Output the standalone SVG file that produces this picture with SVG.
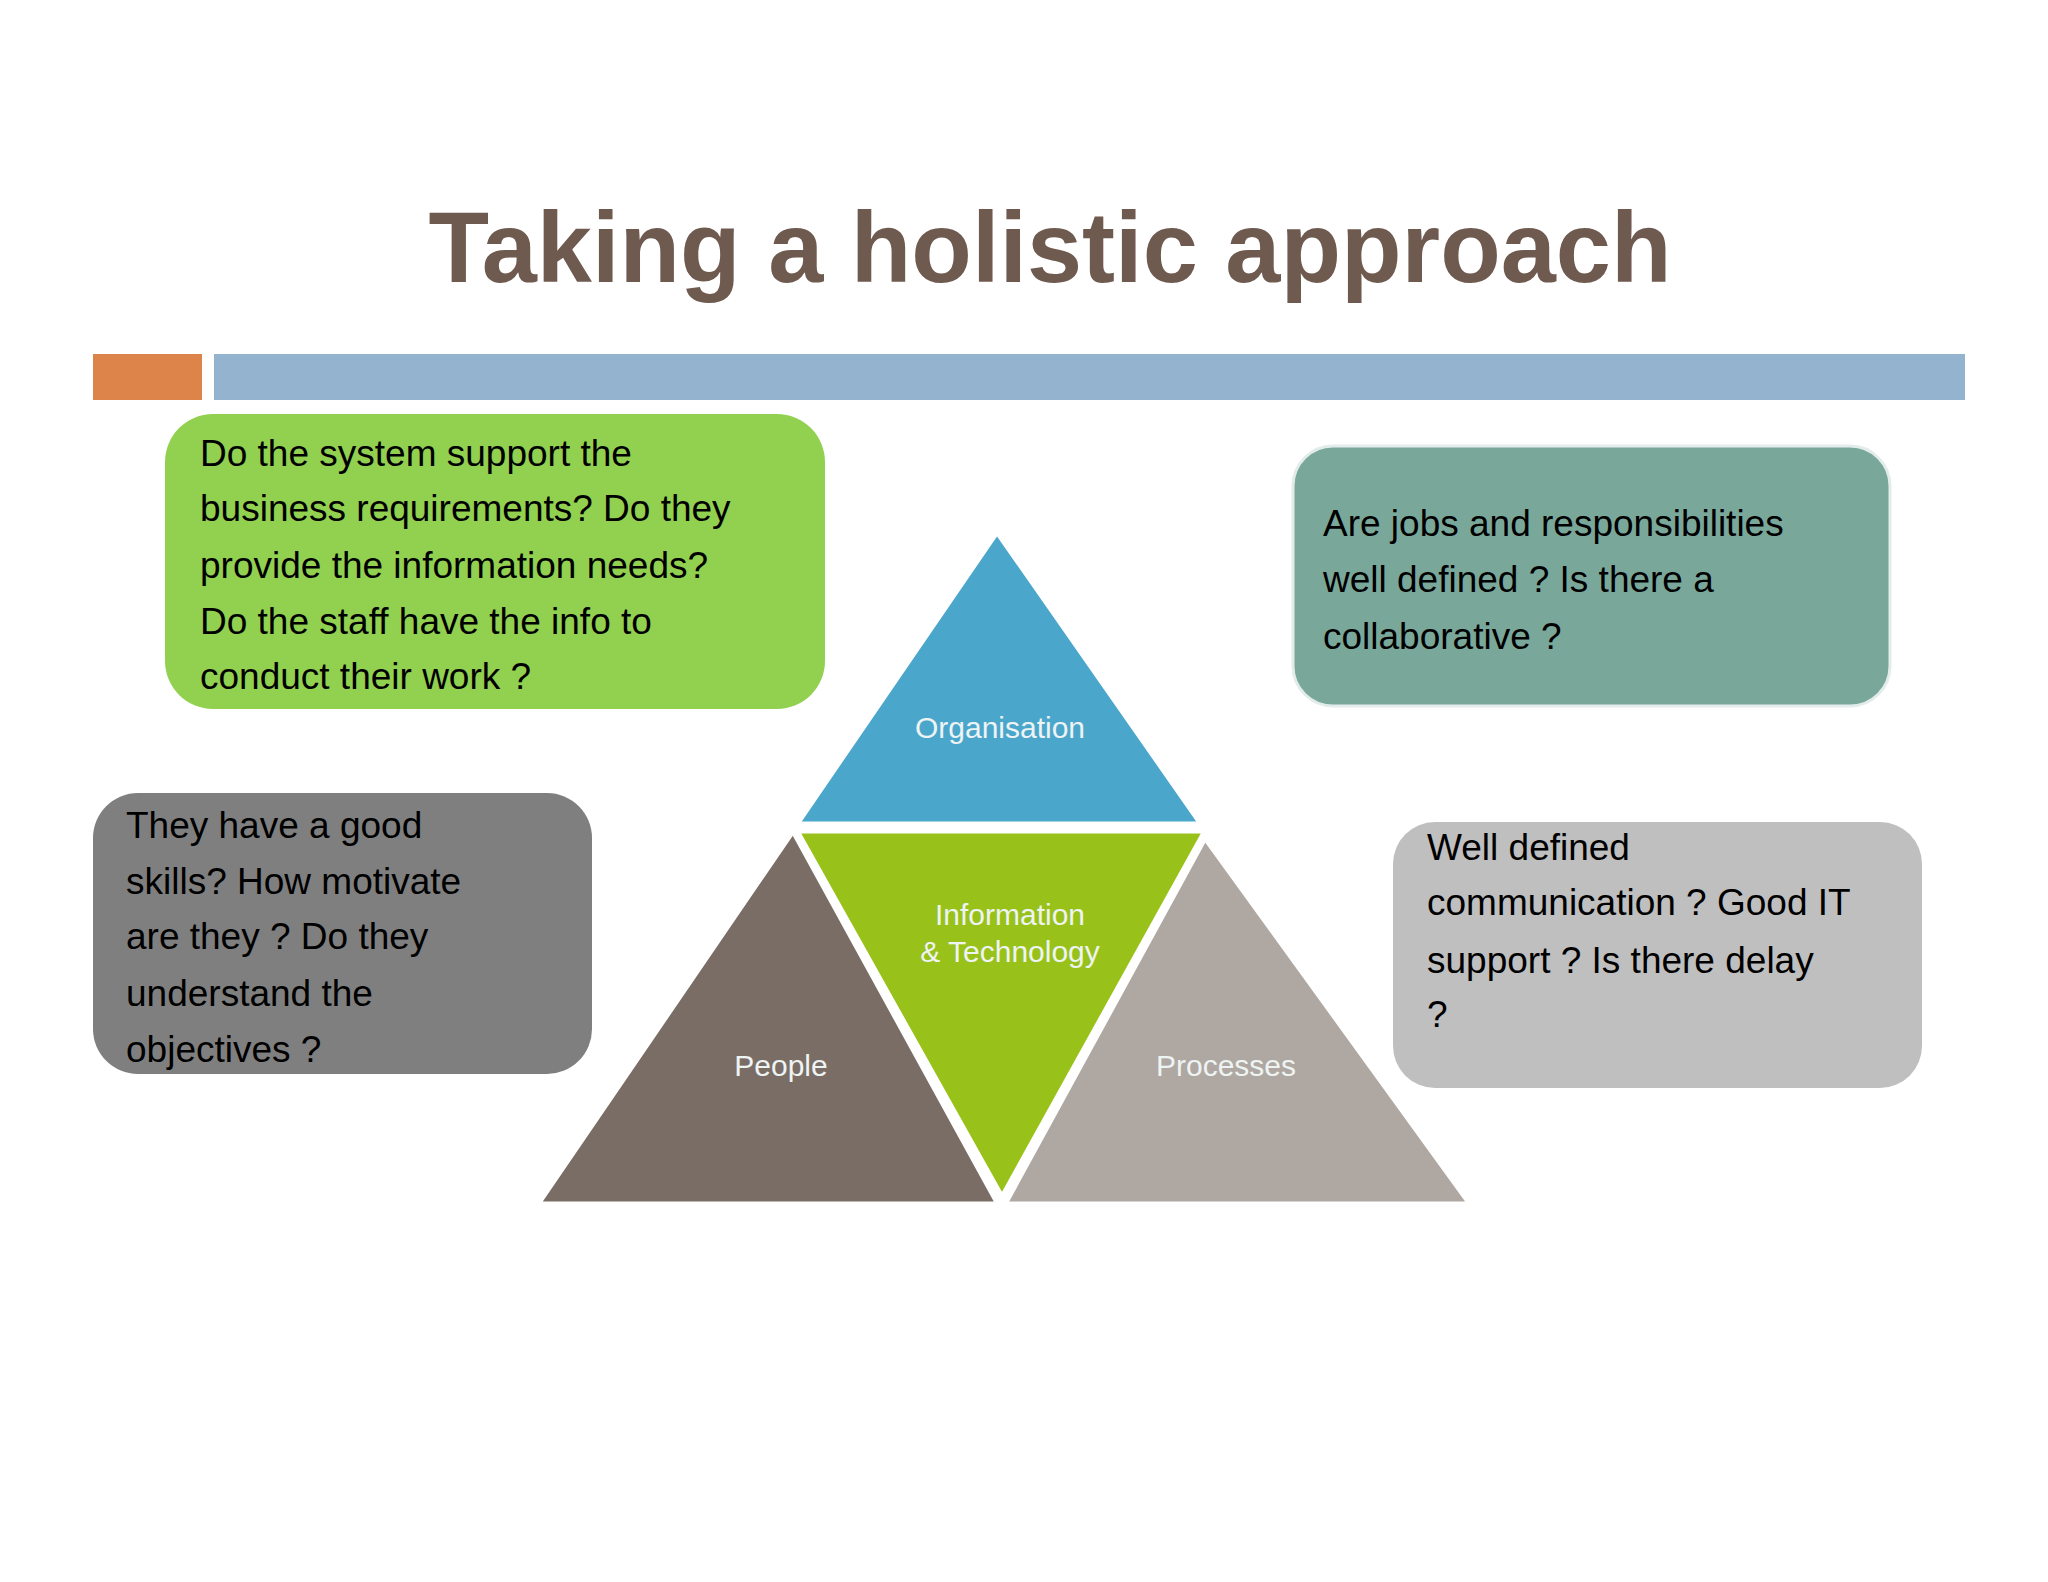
<svg xmlns="http://www.w3.org/2000/svg" width="2048" height="1582" viewBox="0 0 2048 1582">
<style>
.t{font-family:"Liberation Sans",Arial,sans-serif;font-size:37px;fill:#000}
.l{font-family:"Liberation Sans",Arial,sans-serif;font-size:30px;fill:#eef3f3;text-anchor:middle}
</style>
<rect width="2048" height="1582" fill="#fff"/>
<text x="1050" y="282" text-anchor="middle" font-family="Liberation Sans,Arial,sans-serif" font-weight="bold" font-size="100" fill="#6f5a50" textLength="1243" lengthAdjust="spacingAndGlyphs">Taking a holistic approach</text>
<rect x="93" y="354" width="109" height="46" fill="#dd844a"/>
<rect x="214" y="354" width="1751" height="46" fill="#93b3cf"/>
<g id="pyramid" stroke="#fff" stroke-width="5" stroke-linejoin="miter">
<g id="organisation"><polygon points="997,532 797,824 1201,824" fill="#4ba6cc"/><text class="l" x="1000" y="738" stroke="none">Organisation</text></g>
<g id="people"><polygon points="793,831 538,1204 998,1204" fill="#7a6d65"/><text class="l" x="781" y="1076" stroke="none">People</text></g>
<g id="processes"><polygon points="1205,838 1005,1204 1470,1204" fill="#afa7a2"/><text class="l" x="1226" y="1076" stroke="none">Processes</text></g>
<g id="it"><polygon points="797,831 1205,831 1002,1197" fill="#98c21a"/><text class="l" x="1010" y="925" stroke="none">Information</text><text class="l" x="1010" y="962" stroke="none">&amp; Technology</text></g>
</g>
<g id="box1"><rect x="165" y="414" width="660" height="295" rx="48" fill="#92d050"/>
<text class="t" x="200" y="466">Do the system  support the</text><text class="t" x="200" y="521">business requirements?  Do they</text><text class="t" x="200" y="578">provide the information needs?</text><text class="t" x="200" y="634">Do the staff have the info to</text><text class="t" x="200" y="689">conduct their work ?</text></g>
<g id="box2"><rect x="1293" y="446" width="597" height="260" rx="40" fill="#79a89b" stroke="#e3ecea" stroke-width="3"/>
<text class="t" x="1323" y="536">Are jobs and responsibilities</text><text class="t" x="1323" y="592">well defined ? Is there a</text><text class="t" x="1323" y="649">collaborative ?</text></g>
<g id="box3"><rect x="93" y="793" width="499" height="281" rx="45" fill="#7f7f7f"/>
<text class="t" x="126" y="838">They have a good</text><text class="t" x="126" y="894">skills? How motivate</text><text class="t" x="126" y="949">are they ? Do they</text><text class="t" x="126" y="1006">understand the</text><text class="t" x="126" y="1062">objectives ?</text></g>
<g id="box4"><rect x="1393" y="822" width="529" height="266" rx="42" fill="#bfbfbf"/>
<text class="t" x="1427" y="860">Well defined</text><text class="t" x="1427" y="915">communication ? Good IT</text><text class="t" x="1427" y="973">support ?  Is there delay</text><text class="t" x="1427" y="1027">?</text></g>
<g id="connectors"/>
</svg>
